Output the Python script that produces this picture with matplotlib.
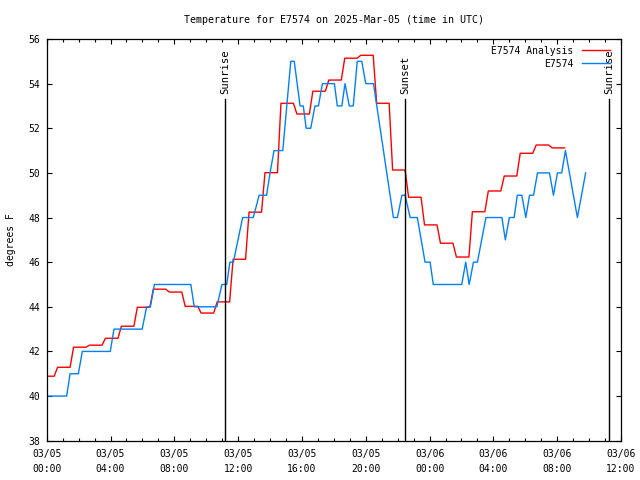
"""
Station temperature vs analysis, gnuplot-style time series (UTC).
"""
import numpy as np
import matplotlib
matplotlib.use('Agg')
import matplotlib.pyplot as plt
import matplotlib.dates as mdates

START = np.datetime64('2025-03-05T00:00')

# analysis: one value per hour (deg F), held then ramped to the next
RED_VALUES = [40.89, 41.29, 42.19, 42.28, 42.59, 43.13, 43.98, 44.79, 44.66,
              44.02, 43.72, 44.22, 46.13, 48.24, 50.01, 53.12, 52.64, 53.66,
              54.16, 55.14, 55.27, 53.12, 50.13, 48.91, 47.67, 46.85, 46.23,
              48.26, 49.19, 49.86, 50.88, 51.25, 51.12]

# observations: hours after 03/05 00:00 UTC and whole-degree readings
OBS_HOURS = [0.0, 1.25, 1.46, 1.98, 2.23, 3.99, 4.22, 5.99, 6.27, 6.50, 6.75,
             9.03, 9.25, 10.66, 10.99, 11.29, 11.49, 11.70, 12.29, 12.95,
             13.31, 13.79, 14.00, 14.25, 14.80, 15.30, 15.52, 15.88, 16.09,
             16.26, 16.55, 16.82, 17.03, 17.28, 18.03, 18.22, 18.50, 18.70,
             18.97, 19.22, 19.47, 19.75, 20.00, 20.48, 21.73, 21.98, 22.26,
             22.46, 22.78, 23.24, 23.72, 24.03, 24.24, 26.02, 26.27, 26.49,
             26.75, 27.00, 27.54, 28.53, 28.75, 29.00, 29.30, 29.50, 29.78,
             30.03, 30.26, 30.51, 30.76, 31.51, 31.76, 32.01, 32.29, 32.51,
             33.27, 33.79]
OBS_VALUES = [40, 40, 41, 41, 42, 42, 43, 43, 44, 44, 45,
              45, 44, 44, 45, 45, 46, 46, 48, 48,
              49, 49, 50, 51, 51, 55, 55, 53, 53,
              52, 52, 53, 53, 54, 54, 53, 53, 54,
              53, 53, 55, 55, 54, 54, 48, 48, 49,
              49, 48, 48, 46, 46, 45, 45, 46, 45,
              46, 46, 48, 48, 47, 48, 48, 49, 49,
              48, 49, 49, 50, 50, 49, 50, 50, 51,
              48, 50]

SUN_EVENTS = [('Sunrise', 11.19), ('Sunset', 22.48), ('Sunrise', 35.25)]


def to_time(hours):
    return START + (np.asarray(hours) * 60).round().astype('timedelta64[m]')


# each hourly analysis value is held ~0.78 h, then ramps ~0.22 h
red_h, red_v = [], []
for i, v in enumerate(RED_VALUES):
    red_h += [max(0.0, i - 0.32), i + 0.46]
    red_v += [v, v]

plt.rcParams['font.family'] = ['DejaVu Sans Mono']
plt.rcParams['font.size'] = 7

fig = plt.figure(figsize=(6.4, 4.8), dpi=100)
ax = fig.add_axes([46.7 / 640, 1 - 440.7 / 480, 574.3 / 640, 401.7 / 480])

ax.plot(to_time(red_h), red_v, color='#ff0000', lw=1.0, label='E7574 Analysis')
ax.plot(to_time(OBS_HOURS), OBS_VALUES, color='#0080ff', lw=1.0, label='E7574')

for name, h in SUN_EVENTS:
    t = to_time(h)
    ax.plot([t, t], [0, 0.8506], color='black', lw=1.0,
            transform=ax.get_xaxis_transform())
    ax.text(t, 0.864, name, rotation=90, ha='center', va='bottom',
            fontsize=7.6, transform=ax.get_xaxis_transform())

ax.set_xlim(to_time(0), to_time(36))
ax.set_ylim(38, 56)
ax.set_yticks(range(38, 57, 2))
ax.xaxis.set_major_locator(mdates.HourLocator(byhour=[0, 4, 8, 12, 16, 20]))
ax.xaxis.set_minor_locator(mdates.HourLocator())
ax.xaxis.set_major_formatter(mdates.DateFormatter('%m/%d\n%H:%M'))

ax.tick_params(which='both', direction='in', top=True, right=True,
               width=0.8, labelsize=7)
ax.tick_params(which='major', length=3.4, pad=4.5)
ax.tick_params(axis='x', which='major', pad=5.8)
ax.tick_params(which='minor', length=2.4)
for lbl in ax.get_xticklabels():
    lbl.set_linespacing(1.6)
for s in ax.spines.values():
    s.set_linewidth(0.9)

ax.set_ylabel('degrees F', fontsize=7, labelpad=9)
ax.set_title('Temperature for E7574 on 2025-Mar-05 (time in UTC)',
             fontsize=7.2, pad=11.5)

ax.legend(loc='upper right', bbox_to_anchor=(0.981, 0.983), frameon=False,
          markerfirst=False, borderpad=0, borderaxespad=0, labelspacing=0.3,
          handlelength=2.9, handletextpad=0.9, fontsize=7)

fig.savefig('out.png', dpi=100, facecolor='white')
